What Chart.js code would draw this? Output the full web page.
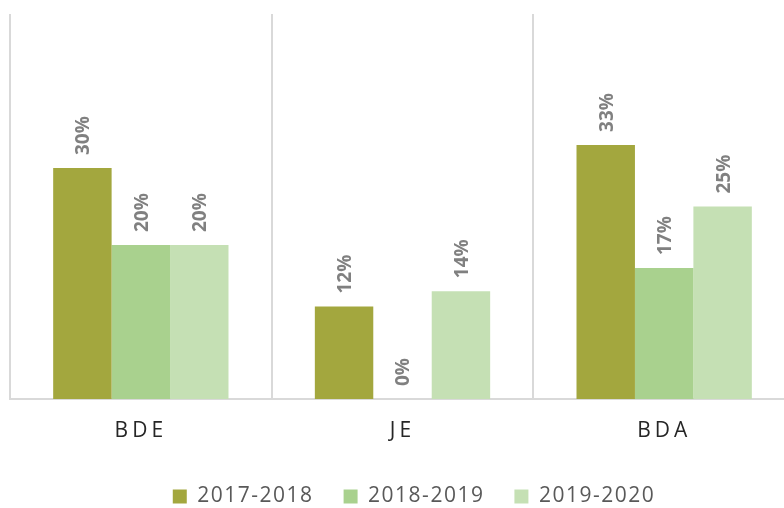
<!DOCTYPE html>
<html><head><meta charset="utf-8">
<style>
html,body{margin:0;padding:0;overflow:hidden;background:#fff;width:784px;height:508px}
canvas{display:block}
</style>
<script src="https://cdn.jsdelivr.net/npm/chart.js@4/dist/chart.umd.min.js"></script>
</head><body>
<canvas id="c" width="818" height="517" style="width:818px;height:517px"></canvas>
<script>
const categories = ['BDE', 'JE', 'BDA'];
const seriesNames = ['2017-2018', '2018-2019', '2019-2020'];
const values2017 = [30, 12, 33];
const values2018 = [20, 0, 17];
const values2019 = [20, 14, 25];
const seriesColors = ['#a3a73e', '#a9d18e', '#c5e0b4'];
const yMin = 0;
const yMax = 50;

const seriesValues = [values2017, values2018, values2019];

const spacingPlugin = {
  id: 'spacing',
  beforeUpdate(chart) { chart.ctx.letterSpacing = '1.5px'; },
  afterUpdate(chart) {
    const xs = chart.scales.x;
    if (xs && !xs._spaced) {
      const orig = xs.drawLabels;
      xs.drawLabels = function (ca) {
        const c = this.ctx;
        c.save();
        c.letterSpacing = '4px';
        orig.call(this, ca);
        c.restore();
      };
      xs._spaced = true;
    }
  }
};

const valueLabels = {
  id: 'valueLabels',
  afterDatasetsDraw(chart) {
    const ctx = chart.ctx;
    chart.data.datasets.forEach((ds, i) => {
      const meta = chart.getDatasetMeta(i);
      meta.data.forEach((el, j) => {
        ctx.save();
        ctx.letterSpacing = '0px';
        ctx.translate(el.x + 1.5, el.y - 13);
        ctx.rotate(-Math.PI / 2);
        ctx.font = 'bold 19px "Open Sans"';
        ctx.fillStyle = '#808080';
        ctx.textAlign = 'left';
        ctx.textBaseline = 'middle';
        ctx.fillText(ds.data[j] + '%', 0, 0);
        ctx.restore();
      });
    });
  }
};

new Chart(document.getElementById('c'), {
  type: 'bar',
  data: {
    labels: categories,
    datasets: seriesNames.map((n, i) => ({
      label: n,
      data: seriesValues[i],
      backgroundColor: seriesColors[i],
      borderWidth: 0,
      categoryPercentage: 0.67,
      barPercentage: 1.0
    }))
  },
  options: {
    responsive: false,
    animation: false,
    layout: { padding: { top: 14, left: 10, right: 0, bottom: 0 } },
    scales: {
      x: {
        grid: { display: true, color: '#d9d9d9', lineWidth: 2, drawTicks: false, offset: true },
        border: { display: true, color: '#d9d9d9', width: 2 },
        ticks: { color: '#262626', font: { family: 'Open Sans', size: 21 }, padding: 19 },
        afterFit(s) { s.height = 57; }
      },
      y: { display: false, min: yMin, max: yMax },
      y2: {
        position: 'right', display: true, min: yMin, max: yMax,
        grid: { display: false, drawTicks: false }, border: { display: false },
        ticks: { display: false },
        afterFit(s) { s.width = 23; }
      }
    },
    plugins: {
      tooltip: { enabled: false },
      legend: {
        position: 'bottom',
        labels: {
          boxWidth: 14, boxHeight: 14, padding: 30,
          color: '#595959',
          font: { family: 'Open Sans', size: 21 }
        }
      }
    }
  },
  plugins: [spacingPlugin, valueLabels]
});
</script>
</body></html>
